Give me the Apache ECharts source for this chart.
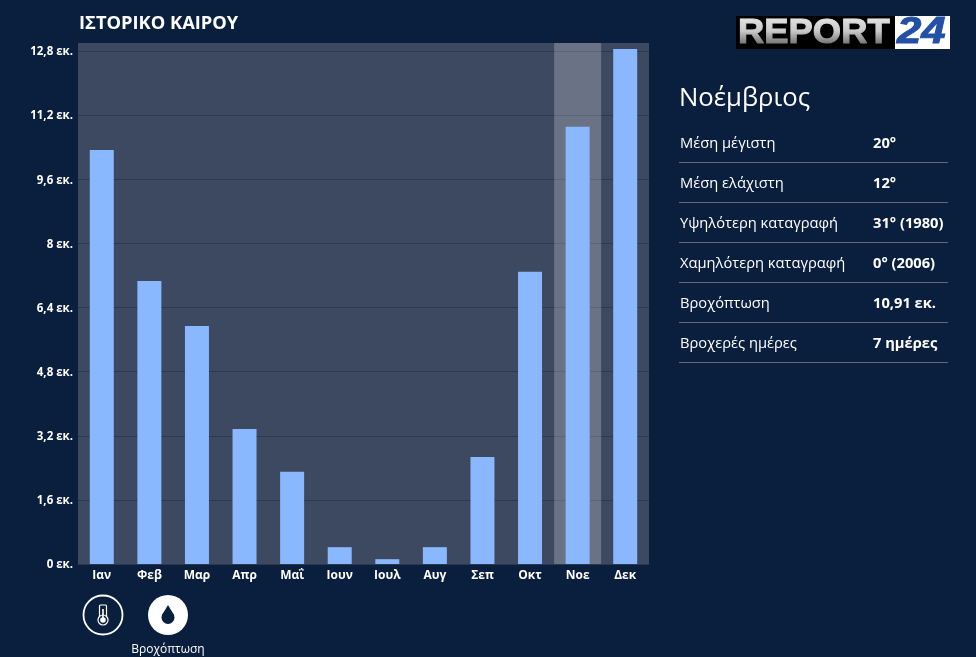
<!DOCTYPE html>
<html><head><meta charset="utf-8">
<style>html,body{margin:0;padding:0;background:#0a1e3d;width:976px;height:657px;overflow:hidden}#c{width:976px;height:657px}</style>
<script src="https://cdn.jsdelivr.net/npm/echarts@6/dist/echarts.min.js"></script>
</head><body><div id="c"></div>
<script>
const months = ['Ιαν','Φεβ','Μαρ','Απρ','Μαΐ','Ιουν','Ιουλ','Αυγ','Σεπ','Οκτ','Νοε','Δεκ'];
const rainfall = [10.33,7.06,5.94,3.37,2.3,0.42,0.12,0.42,2.67,7.29,10.91,12.85];
const highlight = [null,null,null,null,null,null,null,null,null,null,13,null];
const tableLabels = ['Μέση μέγιστη','Μέση ελάχιστη','Υψηλότερη καταγραφή','Χαμηλότερη καταγραφή','Βροχόπτωση','Βροχερές ημέρες'];
const tableValues = ['20°','12°','31° (1980)','0° (2006)','10,91 εκ.','7 ημέρες'];
const FONT = '"Open Sans","Noto Sans",sans-serif';
const BG = '#0a1e3d';
const chart = echarts.init(document.getElementById('c'));
const g = [];
const txt = (x,y,t,size,weight,extra) => g.push({type:'text',x,y,silent:true,style:Object.assign({text:t,fill:'#fff',font:`${weight} ${size}px ${FONT}`,textVerticalAlign:'middle'},extra||{})});
txt(79,24,'ΙΣΤΟΡΙΚΟ ΚΑΙΡΟΥ',18.3,700);
txt(679,99,'Νοέμβριος',25.7,400);
tableLabels.forEach((l,i)=>{
  const y=143+i*40;
  txt(680,y+1,l,14.7,400);
  txt(873,y+1,tableValues[i],14.7,700);
  g.push({type:'rect',shape:{x:679,y:y+19,width:269,height:1},style:{fill:'#5d6a80'},silent:true});
});
// logo
g.push({type:'rect',shape:{x:736,y:16,width:159,height:33},style:{fill:'#000'},silent:true});
g.push({type:'rect',shape:{x:895,y:16,width:55,height:33},style:{fill:'#fff'},silent:true});
g.push({type:'text',x:738,y:33,scaleX:1.04,silent:true,z:5,style:{text:'REPORT',fill:'#e6e6e6',stroke:'#e6e6e6',lineWidth:1,font:`bold 35px "Liberation Sans",sans-serif`,textVerticalAlign:'middle'}});
g.push({type:'rect',z:6,shape:{x:736,y:16,width:159,height:33},silent:true,style:{fill:new echarts.graphic.LinearGradient(0,0,0,1,[{offset:0,color:'rgba(0,0,0,0)'},{offset:.45,color:'rgba(0,0,0,0.12)'},{offset:.9,color:'rgba(0,0,0,0.55)'},{offset:1,color:'rgba(0,0,0,0.6)'}])}});
g.push({type:'text',x:897,y:33,scaleX:1.18,silent:true,z:5,style:{text:'24',fill:'#2350a6',stroke:'#2350a6',lineWidth:1,font:`italic bold 37px "Liberation Sans",sans-serif`,textVerticalAlign:'middle'}});
// icons
g.push({type:'circle',shape:{cx:103,cy:615,r:19.5},style:{fill:'none',stroke:'#fff',lineWidth:1.8},silent:true});
g.push({type:'rect',shape:{x:99.5,y:605,width:7,height:13,r:1},style:{fill:'none',stroke:'#fff',lineWidth:1.2},silent:true});
g.push({type:'circle',shape:{cx:103,cy:620,r:5},style:{fill:BG,stroke:'#fff',lineWidth:1.2},silent:true});
g.push({type:'circle',shape:{cx:103,cy:620,r:2.8},style:{fill:'#fff'},silent:true,z:2});
g.push({type:'rect',shape:{x:102.2,y:609,width:1.6,height:9},style:{fill:'#fff'},silent:true,z:2});
g.push({type:'circle',shape:{cx:168,cy:615,r:20},style:{fill:'#fff'},silent:true});
g.push({type:'circle',shape:{cx:168,cy:617.5,r:6.5},style:{fill:BG},silent:true,z:10});
g.push({type:'polygon',shape:{points:[[168,605],[162,615],[174,615]]},style:{fill:BG},silent:true,z:10});
g.push({type:'text',x:168,y:650,silent:true,style:{text:'Βροχόπτωση',fill:'#fff',font:`400 12px ${FONT}`,textAlign:'center',textVerticalAlign:'middle'}});

chart.setOption({
  animation:false,
  backgroundColor:BG,
  grid:{left:78,top:43,width:571,height:521,show:true,backgroundColor:'#3c4961',borderWidth:0},
  xAxis:[
    {type:'category',data:months,axisTick:{show:false},axisLine:{show:true,lineStyle:{color:'#2a3850'}},
     axisLabel:{color:'#fff',fontFamily:FONT,fontWeight:700,fontSize:12,margin:6,interval:0}},
    {type:'category',data:months,show:false}
  ],
  yAxis:{type:'value',min:0,max:13,interval:1.6,
    axisLine:{show:false},axisTick:{show:false},
    splitLine:{show:true,showMaxLine:false,lineStyle:{color:'#2c3950',width:1}},
    axisLabel:{color:'#fff',margin:5,showMaxLabel:false,
      rich:{a:{color:'#fff',fontFamily:FONT,fontWeight:700,fontSize:11.5,padding:[2,0,0,0]}},
      formatter:v=>'{a|'+String(+v.toFixed(1)).replace('.',',')+' εκ.}'}},
  series:[
    {name:'highlight',type:'bar',xAxisIndex:1,data:highlight,barWidth:47,silent:true,itemStyle:{color:'rgba(255,255,255,0.23)'},z:1},
    {name:'Βροχόπτωση',type:'bar',data:rainfall,barWidth:24,itemStyle:{color:'#8ab8ff'},z:2}
  ],
  graphic:{elements:g}
});
</script></body></html>
